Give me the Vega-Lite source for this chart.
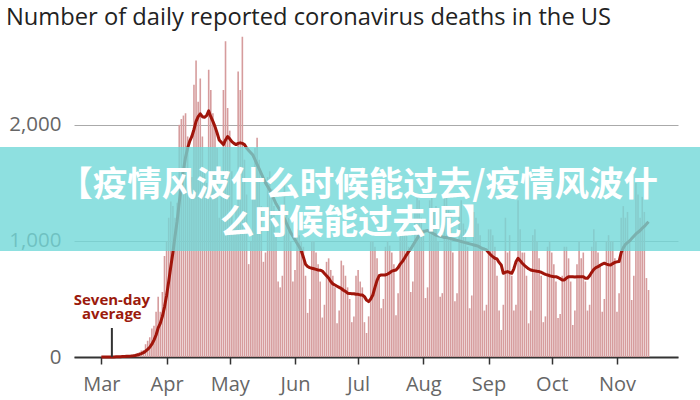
{
  "$schema": "https://vega.github.io/schema/vega-lite/v6.json",
  "width": 604,
  "height": 325,
  "autosize": {"type": "none"},
  "padding": {"left": 74, "top": 32, "right": 22, "bottom": 43},
  "background": "white",
  "title": {
    "text": "Number of daily reported coronavirus deaths in the US",
    "anchor": "start",
    "frame": "group",
    "dx": -68,
    "offset": 2,
    "font": "Open Sans",
    "fontSize": 23.7,
    "fontWeight": "normal",
    "color": "#222222"
  },
  "config": {
    "view": {"stroke": null},
    "axisX": {
      "domainColor": "#333333",
      "domainWidth": 2,
      "tickColor": "#333333",
      "tickSize": 7,
      "tickWidth": 1.5,
      "labelFont": "Open Sans",
      "labelFontSize": 20,
      "labelColor": "#666666",
      "labelPadding": 10,
      "grid": false,
      "title": null
    },
    "axisY": {
      "grid": true,
      "gridColor": "#aaaaaa",
      "gridWidth": 1,
      "domain": false,
      "ticks": false,
      "tickSize": 0,
      "labelFont": "Open Sans",
      "labelFontSize": 20.5,
      "labelColor": "#666666",
      "labelPadding": 13,
      "title": null
    }
  },
  "datasets": {
    "deaths": [
      {"d":"2020-03-01","n":1,"a":0},{"d":"2020-03-02","n":0,"a":0},{"d":"2020-03-03","n":1,"a":1},{"d":"2020-03-04","n":2,"a":1},{"d":"2020-03-05","n":1,"a":1},{"d":"2020-03-06","n":3,"a":1},{"d":"2020-03-07","n":2,"a":1},
      {"d":"2020-03-08","n":3,"a":2},{"d":"2020-03-09","n":4,"a":2},{"d":"2020-03-10","n":4,"a":3},{"d":"2020-03-11","n":7,"a":4},{"d":"2020-03-12","n":6,"a":5},{"d":"2020-03-13","n":9,"a":6},{"d":"2020-03-14","n":10,"a":7},
      {"d":"2020-03-15","n":10,"a":8},{"d":"2020-03-16","n":18,"a":10},{"d":"2020-03-17","n":23,"a":13},{"d":"2020-03-18","n":34,"a":17},{"d":"2020-03-19","n":40,"a":22},{"d":"2020-03-20","n":56,"a":29},{"d":"2020-03-21","n":60,"a":37},
      {"d":"2020-03-22","n":110,"a":50},{"d":"2020-03-23","n":140,"a":66},{"d":"2020-03-24","n":170,"a":84},{"d":"2020-03-25","n":245,"a":110},{"d":"2020-03-26","n":270,"a":145},{"d":"2020-03-27","n":390,"a":190},{"d":"2020-03-28","n":520,"a":250},
      {"d":"2020-03-29","n":390,"a":290},{"d":"2020-03-30","n":560,"a":350},{"d":"2020-03-31","n":870,"a":430},{"d":"2020-04-01","n":1000,"a":530},{"d":"2020-04-02","n":1200,"a":650},{"d":"2020-04-03","n":1340,"a":780},{"d":"2020-04-04","n":1300,"a":900},
      {"d":"2020-04-05","n":1200,"a":1040},{"d":"2020-04-06","n":1330,"a":1170},{"d":"2020-04-07","n":2000,"a":1330},{"d":"2020-04-08","n":2050,"a":1480},{"d":"2020-04-09","n":2080,"a":1610},{"d":"2020-04-10","n":2100,"a":1720},{"d":"2020-04-11","n":1900,"a":1800},
      {"d":"2020-04-12","n":1600,"a":1860},{"d":"2020-04-13","n":1550,"a":1900},{"d":"2020-04-14","n":2345,"a":1960},{"d":"2020-04-15","n":2555,"a":2030},{"d":"2020-04-16","n":2200,"a":2070},{"d":"2020-04-17","n":2400,"a":2095},{"d":"2020-04-18","n":1900,"a":2070},
      {"d":"2020-04-19","n":1600,"a":2065},{"d":"2020-04-20","n":1500,"a":2080},{"d":"2020-04-21","n":2475,"a":2120},{"d":"2020-04-22","n":2300,"a":2070},{"d":"2020-04-23","n":2100,"a":2030},{"d":"2020-04-24","n":2000,"a":1985},{"d":"2020-04-25","n":1800,"a":1930},
      {"d":"2020-04-26","n":1200,"a":1870},{"d":"2020-04-27","n":1400,"a":1850},{"d":"2020-04-28","n":2300,"a":1830},{"d":"2020-04-29","n":2720,"a":1870},{"d":"2020-04-30","n":2145,"a":1900},{"d":"2020-05-01","n":1950,"a":1880},{"d":"2020-05-02","n":1600,"a":1855},
      {"d":"2020-05-03","n":1150,"a":1840},{"d":"2020-05-04","n":1300,"a":1830},{"d":"2020-05-05","n":2460,"a":1840},{"d":"2020-05-06","n":2300,"a":1845},{"d":"2020-05-07","n":2760,"a":1840},{"d":"2020-05-08","n":1700,"a":1830},{"d":"2020-05-09","n":1400,"a":1800},
      {"d":"2020-05-10","n":800,"a":1780},{"d":"2020-05-11","n":1000,"a":1760},{"d":"2020-05-12","n":1600,"a":1740},{"d":"2020-05-13","n":1800,"a":1700},{"d":"2020-05-14","n":1890,"a":1660},{"d":"2020-05-15","n":1700,"a":1620},{"d":"2020-05-16","n":1300,"a":1580},
      {"d":"2020-05-17","n":820,"a":1540},{"d":"2020-05-18","n":900,"a":1500},{"d":"2020-05-19","n":1550,"a":1470},{"d":"2020-05-20","n":1600,"a":1440},{"d":"2020-05-21","n":1450,"a":1400},{"d":"2020-05-22","n":1300,"a":1360},{"d":"2020-05-23","n":1050,"a":1320},
      {"d":"2020-05-24","n":650,"a":1290},{"d":"2020-05-25","n":600,"a":1260},{"d":"2020-05-26","n":700,"a":1220},{"d":"2020-05-27","n":1500,"a":1190},{"d":"2020-05-28","n":1250,"a":1150},{"d":"2020-05-29","n":1200,"a":1110},{"d":"2020-05-30","n":1000,"a":1070},
      {"d":"2020-05-31","n":650,"a":1040},{"d":"2020-06-01","n":750,"a":1010},{"d":"2020-06-02","n":1100,"a":980},{"d":"2020-06-03","n":1050,"a":950},{"d":"2020-06-04","n":1000,"a":914},{"d":"2020-06-05","n":950,"a":860},{"d":"2020-06-06","n":700,"a":800},
      {"d":"2020-06-07","n":380,"a":780},{"d":"2020-06-08","n":500,"a":770},{"d":"2020-06-09","n":1000,"a":765},{"d":"2020-06-10","n":1000,"a":760},{"d":"2020-06-11","n":900,"a":755},{"d":"2020-06-12","n":800,"a":750},{"d":"2020-06-13","n":650,"a":748},
      {"d":"2020-06-14","n":340,"a":740},{"d":"2020-06-15","n":450,"a":720},{"d":"2020-06-16","n":820,"a":700},{"d":"2020-06-17","n":850,"a":680},{"d":"2020-06-18","n":750,"a":650},{"d":"2020-06-19","n":700,"a":630},{"d":"2020-06-20","n":600,"a":620},
      {"d":"2020-06-21","n":290,"a":610},{"d":"2020-06-22","n":400,"a":600},{"d":"2020-06-23","n":830,"a":590},{"d":"2020-06-24","n":790,"a":575},{"d":"2020-06-25","n":700,"a":565},{"d":"2020-06-26","n":600,"a":550},{"d":"2020-06-27","n":500,"a":548},
      {"d":"2020-06-28","n":300,"a":545},{"d":"2020-06-29","n":350,"a":545},{"d":"2020-06-30","n":700,"a":540},{"d":"2020-07-01","n":750,"a":540},{"d":"2020-07-02","n":650,"a":535},{"d":"2020-07-03","n":600,"a":534},{"d":"2020-07-04","n":300,"a":520},
      {"d":"2020-07-05","n":207,"a":490},{"d":"2020-07-06","n":350,"a":477},{"d":"2020-07-07","n":1000,"a":500},{"d":"2020-07-08","n":1000,"a":534},{"d":"2020-07-09","n":950,"a":600},{"d":"2020-07-10","n":850,"a":660},{"d":"2020-07-11","n":700,"a":700},
      {"d":"2020-07-12","n":420,"a":707},{"d":"2020-07-13","n":500,"a":707},{"d":"2020-07-14","n":950,"a":707},{"d":"2020-07-15","n":1000,"a":715},{"d":"2020-07-16","n":960,"a":725},{"d":"2020-07-17","n":900,"a":740},{"d":"2020-07-18","n":800,"a":745},
      {"d":"2020-07-19","n":360,"a":750},{"d":"2020-07-20","n":550,"a":770},{"d":"2020-07-21","n":1100,"a":800},{"d":"2020-07-22","n":1150,"a":822},{"d":"2020-07-23","n":1100,"a":850},{"d":"2020-07-24","n":1050,"a":880},{"d":"2020-07-25","n":950,"a":908},
      {"d":"2020-07-26","n":560,"a":930},{"d":"2020-07-27","n":650,"a":960},{"d":"2020-07-28","n":1250,"a":990},{"d":"2020-07-29","n":1400,"a":1020},{"d":"2020-07-30","n":1350,"a":1050},{"d":"2020-07-31","n":1200,"a":1070},{"d":"2020-08-01","n":1100,"a":1080},
      {"d":"2020-08-02","n":508,"a":1085},{"d":"2020-08-03","n":600,"a":1090},{"d":"2020-08-04","n":1350,"a":1080},{"d":"2020-08-05","n":1400,"a":1070},{"d":"2020-08-06","n":1250,"a":1060},{"d":"2020-08-07","n":1300,"a":1050},{"d":"2020-08-08","n":1000,"a":1045},
      {"d":"2020-08-09","n":520,"a":1040},{"d":"2020-08-10","n":550,"a":1035},{"d":"2020-08-11","n":1400,"a":1030},{"d":"2020-08-12","n":1450,"a":1030},{"d":"2020-08-13","n":1300,"a":1025},{"d":"2020-08-14","n":1250,"a":1020},{"d":"2020-08-15","n":900,"a":1015},
      {"d":"2020-08-16","n":480,"a":1010},{"d":"2020-08-17","n":550,"a":1005},{"d":"2020-08-18","n":1300,"a":1000},{"d":"2020-08-19","n":1350,"a":995},{"d":"2020-08-20","n":1150,"a":990},{"d":"2020-08-21","n":1100,"a":985},{"d":"2020-08-22","n":950,"a":980},
      {"d":"2020-08-23","n":420,"a":975},{"d":"2020-08-24","n":530,"a":970},{"d":"2020-08-25","n":1250,"a":965},{"d":"2020-08-26","n":1200,"a":960},{"d":"2020-08-27","n":1150,"a":955},{"d":"2020-08-28","n":1050,"a":945},{"d":"2020-08-29","n":950,"a":935},
      {"d":"2020-08-30","n":400,"a":930},{"d":"2020-08-31","n":450,"a":922},{"d":"2020-09-01","n":1100,"a":900},{"d":"2020-09-02","n":1100,"a":880},{"d":"2020-09-03","n":1050,"a":865},{"d":"2020-09-04","n":950,"a":851},{"d":"2020-09-05","n":700,"a":845},
      {"d":"2020-09-06","n":400,"a":815},{"d":"2020-09-07","n":233,"a":793},{"d":"2020-09-08","n":450,"a":721},{"d":"2020-09-09","n":1200,"a":730},{"d":"2020-09-10","n":900,"a":736},{"d":"2020-09-11","n":1050,"a":728},{"d":"2020-09-12","n":700,"a":721},
      {"d":"2020-09-13","n":400,"a":760},{"d":"2020-09-14","n":450,"a":820},{"d":"2020-09-15","n":1350,"a":851},{"d":"2020-09-16","n":1100,"a":830},{"d":"2020-09-17","n":900,"a":808},{"d":"2020-09-18","n":900,"a":790},{"d":"2020-09-19","n":700,"a":775},
      {"d":"2020-09-20","n":290,"a":760},{"d":"2020-09-21","n":400,"a":750},{"d":"2020-09-22","n":1050,"a":745},{"d":"2020-09-23","n":1100,"a":742},{"d":"2020-09-24","n":1000,"a":738},{"d":"2020-09-25","n":850,"a":736},{"d":"2020-09-26","n":700,"a":730},
      {"d":"2020-09-27","n":300,"a":720},{"d":"2020-09-28","n":350,"a":712},{"d":"2020-09-29","n":950,"a":707},{"d":"2020-09-30","n":1000,"a":700},{"d":"2020-10-01","n":900,"a":695},{"d":"2020-10-02","n":800,"a":692},{"d":"2020-10-03","n":650,"a":692},
      {"d":"2020-10-04","n":335,"a":685},{"d":"2020-10-05","n":370,"a":675},{"d":"2020-10-06","n":700,"a":664},{"d":"2020-10-07","n":950,"a":664},{"d":"2020-10-08","n":950,"a":680},{"d":"2020-10-09","n":850,"a":692},{"d":"2020-10-10","n":650,"a":692},
      {"d":"2020-10-11","n":276,"a":692},{"d":"2020-10-12","n":400,"a":690},{"d":"2020-10-13","n":800,"a":692},{"d":"2020-10-14","n":1000,"a":692},{"d":"2020-10-15","n":850,"a":692},{"d":"2020-10-16","n":900,"a":692},{"d":"2020-10-17","n":650,"a":678},
      {"d":"2020-10-18","n":400,"a":678},{"d":"2020-10-19","n":450,"a":700},{"d":"2020-10-20","n":950,"a":730},{"d":"2020-10-21","n":1100,"a":755},{"d":"2020-10-22","n":1000,"a":770},{"d":"2020-10-23","n":900,"a":778},{"d":"2020-10-24","n":800,"a":790},
      {"d":"2020-10-25","n":390,"a":800},{"d":"2020-10-26","n":500,"a":808},{"d":"2020-10-27","n":1000,"a":800},{"d":"2020-10-28","n":1050,"a":795},{"d":"2020-10-29","n":1000,"a":793},{"d":"2020-10-30","n":1000,"a":805},{"d":"2020-10-31","n":850,"a":815},
      {"d":"2020-11-01","n":390,"a":820},{"d":"2020-11-02","n":550,"a":822},{"d":"2020-11-03","n":1200,"a":900},{"d":"2020-11-04","n":1300,"a":940},{"d":"2020-11-05","n":1200,"a":970},{"d":"2020-11-06","n":1250,"a":985},{"d":"2020-11-07","n":1000,"a":1000},
      {"d":"2020-11-08","n":491,"a":1020},{"d":"2020-11-09","n":700,"a":1040},{"d":"2020-11-10","n":1500,"a":1060},{"d":"2020-11-11","n":1400,"a":1075},{"d":"2020-11-12","n":1200,"a":1090},{"d":"2020-11-13","n":1380,"a":1110},{"d":"2020-11-14","n":1250,"a":1125},
      {"d":"2020-11-15","n":680,"a":1145},{"d":"2020-11-16","n":577,"a":1166}
    ],
    "note": [{"d": "2020-03-06", "label_y": 448, "rule_top": 250, "rule_bottom": 0}],
    "banner": [{"x0": "2020-01-01", "x1": "2020-12-31", "y0": 914, "y1": 1810, "tx": "2020-07-01", "ty": 1477}]
  },
  "layer": [
    {
      "data": {"name": "deaths"},
      "mark": {"type": "bar", "width": 1.6, "color": "#d69c9d"},
      "encoding": {
        "x": {
          "field": "d",
          "type": "temporal",
          "scale": {
            "type": "utc",
            "padding": 0,
            "nice": false,
            "domain": [
              {"year": 2020, "month": 2, "date": 17, "utc": true},
              {"year": 2020, "month": 11, "date": 30, "utc": true}
            ]
          },
          "axis": {"format": "%b", "tickCount": {"interval": "month", "step": 1}}
        },
        "y": {
          "field": "n",
          "type": "quantitative",
          "scale": {"domain": [0, 2800], "nice": false, "padding": 0},
          "axis": {"values": [0, 1000, 2000], "format": ",d"}
        }
      }
    },
    {
      "data": {"name": "deaths"},
      "mark": {"type": "line", "color": "#a0150b", "strokeWidth": 3, "strokeJoin": "round"},
      "encoding": {
        "x": {"field": "d", "type": "temporal"},
        "y": {"field": "a", "type": "quantitative"}
      }
    },
    {
      "data": {"name": "note"},
      "mark": {"type": "rule", "color": "#333333", "strokeWidth": 2},
      "encoding": {
        "x": {"field": "d", "type": "temporal"},
        "y": {"field": "rule_bottom", "type": "quantitative"},
        "y2": {"field": "rule_top"}
      }
    },
    {
      "data": {"name": "note"},
      "mark": {
        "type": "text",
        "text": ["Seven-day", "average"],
        "font": "Open Sans",
        "fontWeight": "bold",
        "fontSize": 15,
        "lineHeight": 14,
        "align": "center",
        "baseline": "alphabetic",
        "color": "#9b1a0c"
      },
      "encoding": {
        "x": {"field": "d", "type": "temporal"},
        "y": {"field": "label_y", "type": "quantitative"}
      }
    },
    {
      "data": {"name": "banner"},
      "mark": {"type": "rect", "color": "#72d8d8", "opacity": 0.8, "clip": false},
      "encoding": {
        "x": {"field": "x0", "type": "temporal"},
        "x2": {"field": "x1"},
        "y": {"field": "y0", "type": "quantitative"},
        "y2": {"field": "y1"}
      }
    },
    {
      "data": {"name": "banner"},
      "mark": {
        "type": "text",
        "text": ["【疫情风波什么时候能过去/疫情风波什", "么时候能过去呢】"],
        "font": "Noto Sans CJK SC",
        "fontWeight": "bold",
        "fontSize": 34.5,
        "lineHeight": 38,
        "align": "center",
        "baseline": "middle",
        "color": "#ffffff"
      },
      "encoding": {
        "x": {"field": "tx", "type": "temporal"},
        "y": {"field": "ty", "type": "quantitative"}
      }
    }
  ]
}
